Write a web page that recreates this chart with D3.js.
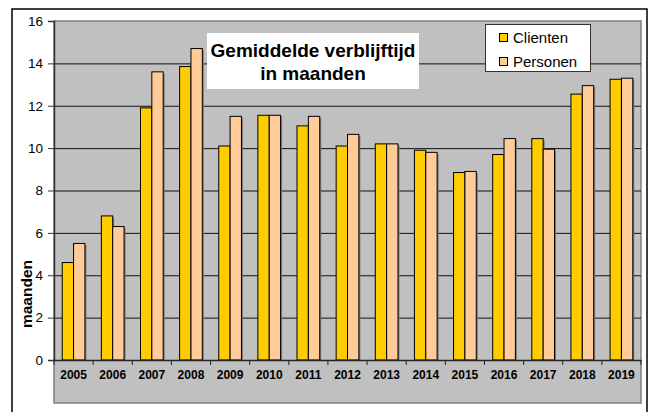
<!DOCTYPE html>
<html>
<head>
<meta charset="utf-8">
<script src="https://cdn.jsdelivr.net/npm/d3@7"></script>
<style>
  body { margin: 0; background: #fff; }
  svg { display: block; font-family: "Liberation Sans", Arial, sans-serif; }
</style>
</head>
<body>
<svg width="649" height="412"></svg>
<script>
const years = ['2005', '2006', '2007', '2008', '2009', '2010', '2011', '2012', '2013', '2014', '2015', '2016', '2017', '2018', '2019'];
const clienten = [4.6, 6.8, 11.9, 13.85, 10.1, 11.55, 11.05, 10.1, 10.2, 9.9, 8.85, 9.7, 10.45, 12.55, 13.25];
const personen = [5.5, 6.3, 13.6, 14.7, 11.5, 11.55, 11.5, 10.65, 10.2, 9.8, 8.9, 10.45, 9.95, 12.95, 13.3];
const yTicks = [0, 2, 4, 6, 8, 10, 12, 14, 16];
const seriesNames = ['Clienten', 'Personen'];
const colors = ['#ffcc00', '#ffcc99'];

const svg = d3.select('svg');
const m = { top: 21, left: 54, right: 641, zero: 360, bottom: 403 };

// outer frame
svg.append('rect')
  .attr('x', 12).attr('y', 9)
  .attr('width', 635).attr('height', 420)
  .attr('fill', '#fff')
  .attr('stroke', '#000')
  .attr('stroke-width', 1.5);

// plot area
svg.append('rect')
  .attr('x', m.left).attr('y', m.top)
  .attr('width', m.right - m.left).attr('height', m.bottom - m.top)
  .attr('fill', '#c0c0c0')
  .attr('stroke', '#808080')
  .attr('stroke-width', 1.5);

const x0 = d3.scaleBand()
  .domain(years)
  .range([m.left, m.right])
  .paddingInner(0.42)
  .paddingOuter(0.21);

const x1 = d3.scaleBand()
  .domain(seriesNames)
  .range([0, x0.bandwidth()]);

const y = d3.scaleLinear()
  .domain([0, 16])
  .range([m.zero, m.top]);

// gridlines
svg.append('g')
  .selectAll('line')
  .data(yTicks.filter(d => d > 0 && d < 16))
  .join('line')
  .attr('x1', m.left).attr('x2', m.right)
  .attr('y1', d => y(d) + 0.5).attr('y2', d => y(d) + 0.5)
  .attr('stroke', '#111')
  .attr('stroke-width', 1);

// bars
const data = years.map((yr, i) => ({ year: yr, vals: [clienten[i], personen[i]] }));

const groups = svg.append('g')
  .selectAll('g')
  .data(data)
  .join('g')
  .attr('transform', d => `translate(${x0(d.year)},0)`);

groups.selectAll('rect.shadow')
  .data(d => d.vals.map((v, k) => ({ k, v })))
  .join('rect')
  .attr('class', 'shadow')
  .attr('x', d => x1(seriesNames[d.k]) + 1.5)
  .attr('y', d => y(d.v) + 1.5)
  .attr('width', x1.bandwidth())
  .attr('height', d => m.zero - y(d.v) - 1.5)
  .attr('fill', '#7a7a7a');

groups.selectAll('rect.bar')
  .data(d => d.vals.map((v, k) => ({ k, v })))
  .join('rect')
  .attr('class', 'bar')
  .attr('x', d => x1(seriesNames[d.k]))
  .attr('y', d => y(d.v))
  .attr('width', x1.bandwidth())
  .attr('height', d => m.zero - y(d.v))
  .attr('fill', d => colors[d.k])
  .attr('stroke', '#000')
  .attr('stroke-width', 1);

// y axis
const yAxis = svg.append('g')
  .attr('transform', `translate(${m.left},0)`)
  .call(d3.axisLeft(y).tickValues(yTicks).tickSize(6).tickPadding(5));
yAxis.select('.domain').attr('stroke', '#333').attr('stroke-width', 1.5);
yAxis.selectAll('.tick line').attr('stroke', '#333');
yAxis.selectAll('text')
  .attr('font-size', 13.5)
  .attr('font-family', '"Liberation Sans", Arial, sans-serif')
  .attr('fill', '#000');

// x axis
const xAxis = svg.append('g')
  .attr('transform', `translate(0,${m.zero})`)
  .call(d3.axisBottom(x0).tickSize(0).tickPadding(10.5));
xAxis.select('.domain').attr('stroke', '#222').attr('stroke-width', 1.5);
xAxis.selectAll('text')
  .attr('font-size', 12)
  .attr('font-weight', 'bold')
  .attr('font-family', '"Liberation Sans", Arial, sans-serif')
  .attr('fill', '#000');

const step = x0.step();
svg.append('g')
  .selectAll('line')
  .data(d3.range(years.length + 1))
  .join('line')
  .attr('x1', i => m.left + i * step).attr('x2', i => m.left + i * step)
  .attr('y1', m.zero).attr('y2', m.zero + 5)
  .attr('stroke', '#222');

// y label
svg.append('text')
  .attr('transform', 'translate(32,294) rotate(-90)')
  .attr('text-anchor', 'middle')
  .attr('font-size', 15.5)
  .attr('font-weight', 'bold')
  .text('maanden');

// title
svg.append('rect')
  .attr('x', 207).attr('y', 33)
  .attr('width', 212).attr('height', 56)
  .attr('fill', '#fff');
svg.append('text')
  .attr('x', 313).attr('y', 57)
  .attr('text-anchor', 'middle')
  .attr('font-size', 19)
  .attr('font-weight', 'bold')
  .text('Gemiddelde verblijftijd');
svg.append('text')
  .attr('x', 313).attr('y', 80)
  .attr('text-anchor', 'middle')
  .attr('font-size', 19)
  .attr('font-weight', 'bold')
  .text('in maanden');

// legend
const legend = svg.append('g');
legend.append('rect')
  .attr('x', 485.5).attr('y', 24.5)
  .attr('width', 105).attr('height', 47)
  .attr('fill', '#fff')
  .attr('stroke', '#333');
const li = legend.selectAll('g')
  .data(seriesNames)
  .join('g')
  .attr('transform', (d, i) => `translate(499,${33 + i * 24})`);
li.append('rect')
  .attr('x', 0.5).attr('y', 0.5)
  .attr('width', 8).attr('height', 8)
  .attr('fill', (d, i) => colors[i])
  .attr('stroke', '#000');
li.append('text')
  .attr('x', 14).attr('y', 10)
  .attr('font-size', 15)
  .text(d => d);
</script>
</body>
</html>
